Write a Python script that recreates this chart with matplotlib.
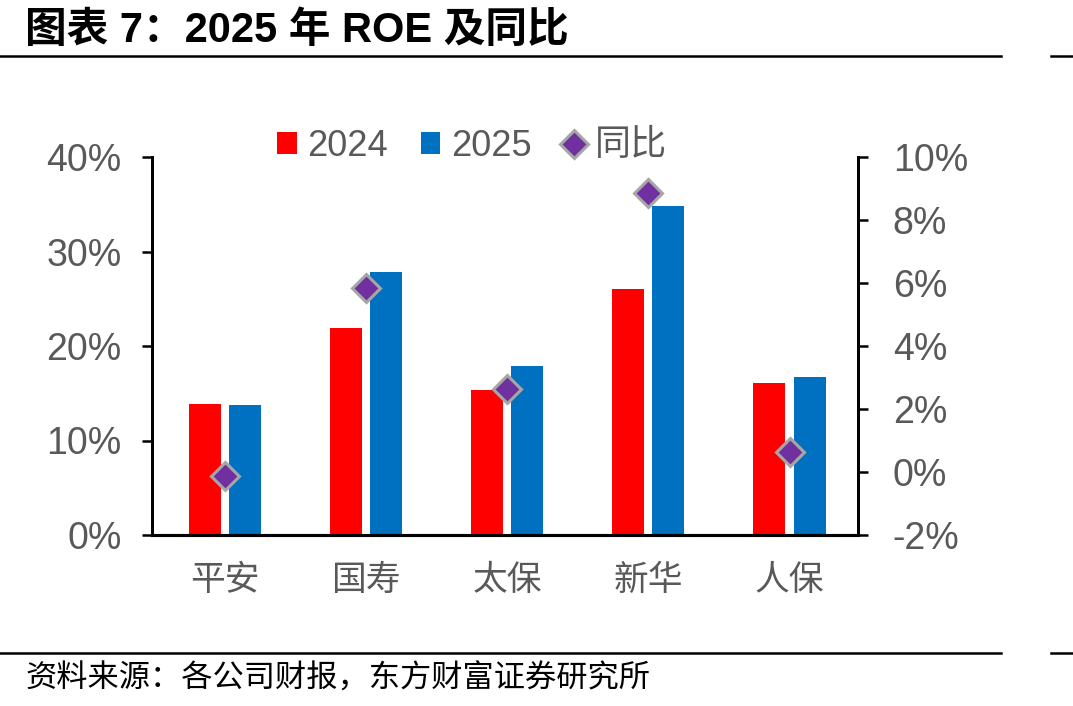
import matplotlib
matplotlib.use("Agg")
import matplotlib.pyplot as plt
from matplotlib.lines import Line2D
from matplotlib.patches import Patch
from matplotlib.ticker import FuncFormatter, FixedLocator
import numpy as np

# ---- data ----
categories = ["平安", "国寿", "太保", "新华", "人保"]
roe_2024 = [0.139, 0.2195, 0.153, 0.260, 0.161]
roe_2025 = [0.138, 0.278, 0.179, 0.3485, 0.167]
yoy = [-0.0012, 0.0584, 0.0263, 0.0887, 0.0064]
left_ticks = [0.0, 0.1, 0.2, 0.3, 0.4]
right_ticks = [-0.02, 0.0, 0.02, 0.04, 0.06, 0.08, 0.10]

title = "图表 7：2025 年 ROE 及同比"
source = "资料来源：各公司财报，东方财富证券研究所"

RED = "#FF0000"
BLUE = "#0070C0"
PURPLE = "#7030A0"
GRAY = "#595959"
LAT = ["Liberation Sans", "Noto Sans CJK SC", "DejaVu Sans"]
CJK = ["Noto Sans CJK SC", "DejaVu Sans"]

W, H = 1073, 706
fig = plt.figure(figsize=(W / 100, H / 100), dpi=100)
ax = fig.add_axes([152 / W, 1 - 535 / H, (858 - 152) / W, (535 - 157) / H])
ax2 = ax.twinx()

x = np.arange(len(categories))
bw = 0.227
off = 0.142
ax.bar(x - off, roe_2024, width=bw, color=RED, zorder=2)
ax.bar(x + off, roe_2025, width=bw, color=BLUE, zorder=2)
ax2.plot(x, yoy, linestyle="none", marker="D", markersize=14,
         markerfacecolor=PURPLE, markeredgecolor="#A6A6A6", markeredgewidth=2.2, zorder=3)

ax.set_xlim(-0.515, 4.485)
ax.set_ylim(0, 0.4)
ax2.set_ylim(-0.02, 0.10)
ax.yaxis.set_major_locator(FixedLocator(left_ticks))
ax2.yaxis.set_major_locator(FixedLocator(right_ticks))
ax.yaxis.set_major_formatter(FuncFormatter(lambda v, p: f"{v*100:.0f}%"))
ax2.yaxis.set_major_formatter(FuncFormatter(lambda v, p: f"{v*100:.0f}%"))

ax.set_xticks(x)
ax.set_xticklabels(categories, fontfamily=CJK, fontsize=25, color=GRAY)
ax.tick_params(axis="x", length=0, pad=20)
ax.tick_params(axis="y", length=7, width=1.8, color="black", direction="out",
               labelsize=27, labelcolor=GRAY, pad=15)
ax2.tick_params(axis="y", length=7, width=1.8, color="black", direction="out",
                labelsize=27, labelcolor=GRAY, pad=18)
for lab in ax.get_yticklabels() + ax2.get_yticklabels():
    lab.set_fontfamily(LAT)

for a in (ax, ax2):
    a.spines["top"].set_visible(False)
    a.spines["left"].set_linewidth(2.0)
    a.spines["right"].set_linewidth(2.0)
    a.spines["bottom"].set_linewidth(2.2)
    a.spines["left"].set_color("black")
    a.spines["right"].set_color("black")

# legend
handles = [Patch(facecolor=RED, edgecolor="none"),
           Patch(facecolor=BLUE, edgecolor="none"),
           Line2D([], [], linestyle="none", marker="D", markersize=14,
                  markerfacecolor=PURPLE, markeredgecolor="#A6A6A6", markeredgewidth=2.2)]
labels = ["2024", "2025", "同比"]
leg = fig.legend(handles, labels, loc="center", bbox_to_anchor=(472 / W, 1 - 146 / H),
                 ncol=3, frameon=False, handlelength=0.55, handleheight=0.55,
                 handletextpad=0.3, columnspacing=0.9, borderaxespad=0,
                 prop={"family": LAT, "size": 26})
for t in leg.get_texts():
    t.set_color(GRAY)

# title, rules, source
fig.text(25 / W, 1 - 42 / H, title, fontsize=30, fontweight="bold",
         fontfamily=LAT, color="black", va="baseline", ha="left")
for yy in (56, 652.5):
    fy = 1 - yy / H
    fig.add_artist(Line2D([0, 1001 / W], [fy, fy], color="black", linewidth=1.8))
    fig.add_artist(Line2D([1051 / W, 1], [fy, fy], color="black", linewidth=1.8))
fig.text(25 / W, 1 - 688 / H, source, fontsize=22.5, fontfamily=CJK,
         color="black", va="baseline", ha="left")

fig.savefig("out.png", dpi=100)
